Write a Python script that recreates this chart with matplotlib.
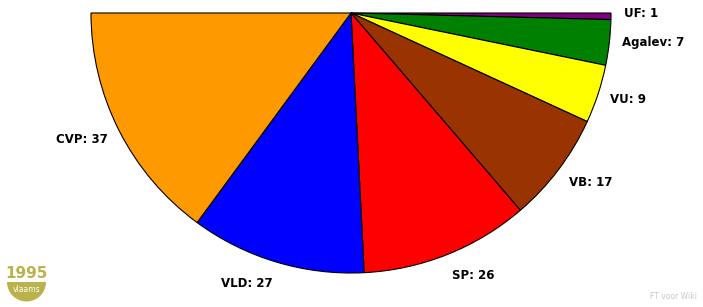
import numpy as np
import matplotlib
matplotlib.use("Agg")
import matplotlib.pyplot as plt
from matplotlib.patches import Wedge

# seats, clockwise from the right end of the half circle
parties = ["UF", "Agalev", "VU", "VB", "SP", "VLD", "CVP"]
seats = [1, 7, 9, 17, 26, 27, 37]
colors = ["#800080", "#008000", "#FFFF00", "#993300", "#FF0000", "#0000FF", "#FF9900"]

W, H = 703, 307
fig = plt.figure(figsize=(W / 100, H / 100), dpi=100)
ax = fig.add_axes([0, 0, 1, 1])

# work in pixel-like units, y going up
cx, cy, r = 351, H - 13, 260
total = sum(seats)
fracs = [s / (2 * total) for s in seats]

wedges, _ = ax.pie(fracs, colors=colors, normalize=False, startangle=0, counterclock=False,
                   center=(cx, cy), radius=r,
                   wedgeprops=dict(edgecolor="black", linewidth=0.8))

# labels next to each wedge
ang = 0.0
for name, s in zip(parties, seats):
    mid = np.radians(ang + s / total * 90)
    ang += s / total * 180
    x = cx + 1.05 * r * np.cos(mid)
    y = (H - 10) - 1.1 * r * np.sin(mid)
    ha = "left" if np.cos(mid) > 0 else "right"
    ax.text(x, y, f"{name}: {s}", ha=ha, va="center", fontsize=8.5, fontweight="bold", color="black")

# logo bottom left
olive = "#bab24a"
ax.text(26.5, H - 273.5, "1995", ha="center", va="center", fontsize=11, fontweight="bold", color=olive)
ax.add_patch(Wedge((26.5, H - 282), 19.5, 180, 360, facecolor=olive, edgecolor="none"))
ax.text(26.5, H - 290, "vlaams", ha="center", va="center", fontsize=5.5, color="white")

# credit bottom right
ax.text(697, H - 296.5, "FT voor Wiki", ha="right", va="center", fontsize=5.5, color="#c8c8c8")

ax.set_xlim(0, W)
ax.set_ylim(0, H)
ax.set_aspect("equal")
ax.axis("off")

fig.savefig("out.png", dpi=100)
